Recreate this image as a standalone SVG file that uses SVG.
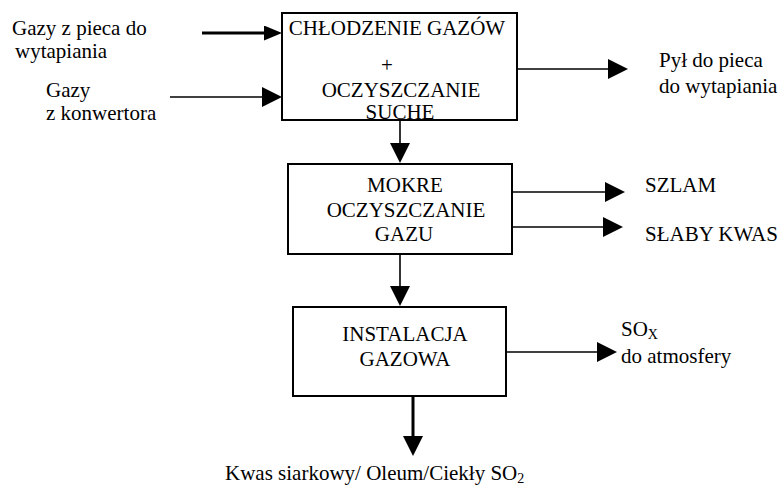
<svg xmlns="http://www.w3.org/2000/svg" width="781" height="485" viewBox="0 0 781 485">
  <style>
    .t { font-family: Liberation Serif, serif; font-size: 21px; fill: #000; }
    .mid { text-anchor: middle; }
    .sub { font-size: 14px; }
    .box { fill: #fff; stroke: #000; stroke-width: 2; }
    .flow { fill: none; stroke: #000; stroke-width: 1.6; }
    .flow.heavy { stroke-width: 3; }
  </style>
  <defs>
    <marker id="head" viewBox="0 0 20 20" refX="15" refY="10" markerWidth="20" markerHeight="20" markerUnits="userSpaceOnUse" orient="auto">
      <path d="M0,0 L20,10 L0,20 Z" fill="#000"/>
    </marker>
    <marker id="headSmall" viewBox="0 0 18 15" refX="13" refY="7.5" markerWidth="18" markerHeight="15" markerUnits="userSpaceOnUse" orient="auto">
      <path d="M0,0 L18,7.5 L0,15 Z" fill="#000"/>
    </marker>
  </defs>

  <!-- connectors -->
  <g id="connectors">
    <line class="flow heavy" x1="202" y1="33" x2="277" y2="33" marker-end="url(#headSmall)"/>
    <line class="flow" x1="170" y1="97" x2="277" y2="97" marker-end="url(#head)"/>
    <line class="flow" x1="517" y1="69" x2="623" y2="69" marker-end="url(#head)"/>
    <line class="flow" x1="400" y1="120" x2="400" y2="158" marker-end="url(#head)"/>
    <line class="flow" x1="512" y1="192" x2="620" y2="192" marker-end="url(#head)"/>
    <line class="flow" x1="512" y1="227" x2="618" y2="227" marker-end="url(#head)"/>
    <line class="flow" x1="400" y1="254" x2="400" y2="301" marker-end="url(#head)"/>
    <line class="flow" x1="506" y1="352" x2="612" y2="352" marker-end="url(#head)"/>
    <line class="flow heavy" x1="413" y1="397" x2="413" y2="451" marker-end="url(#head)"/>
  </g>

  <!-- input labels -->
  <g id="in-smelter">
    <text class="t" x="12" y="35">Gazy z pieca do</text>
    <text class="t" x="15" y="58">wytapiania</text>
  </g>
  <g id="in-converter">
    <text class="t" x="46" y="97">Gazy</text>
    <text class="t" x="46" y="120">z konwertora</text>
  </g>

  <!-- gas cooling and dry cleaning -->
  <g id="cooling">
    <rect class="box" x="282" y="13" width="235" height="107"/>
    <text class="t mid" x="397" y="35">CHŁODZENIE GAZÓW</text>
    <text class="t mid" x="387" y="72">+</text>
    <text class="t mid" x="401" y="97">OCZYSZCZANIE</text>
    <text class="t mid" x="400" y="119">SUCHE</text>
  </g>

  <g id="out-dust">
    <text class="t" x="659" y="67">Pył do pieca</text>
    <text class="t" x="659" y="93">do wytapiania</text>
  </g>

  <!-- wet gas cleaning -->
  <g id="wet-cleaning">
    <rect class="box" x="288" y="164" width="224" height="90"/>
    <text class="t mid" x="405" y="192">MOKRE</text>
    <text class="t mid" x="406" y="217">OCZYSZCZANIE</text>
    <text class="t mid" x="404" y="241">GAZU</text>
  </g>

  <g id="out-sludge">
    <text class="t" x="645" y="192">SZLAM</text>
  </g>
  <g id="out-weak-acid">
    <text class="t" x="645" y="241">SŁABY KWAS</text>
  </g>

  <!-- gas plant -->
  <g id="gas-plant">
    <rect class="box" x="293" y="307" width="213" height="89"/>
    <text class="t mid" x="405" y="341">INSTALACJA</text>
    <text class="t mid" x="405" y="366">GAZOWA</text>
  </g>

  <g id="out-sox">
    <text class="t" x="621" y="336">SO<tspan class="sub" dy="3">X</tspan></text>
    <text class="t" x="621" y="363">do atmosfery</text>
  </g>

  <g id="out-products">
    <text class="t" x="225" y="480">Kwas siarkowy/ Oleum/Ciekły SO<tspan class="sub" dy="3">2</tspan></text>
  </g>
</svg>
